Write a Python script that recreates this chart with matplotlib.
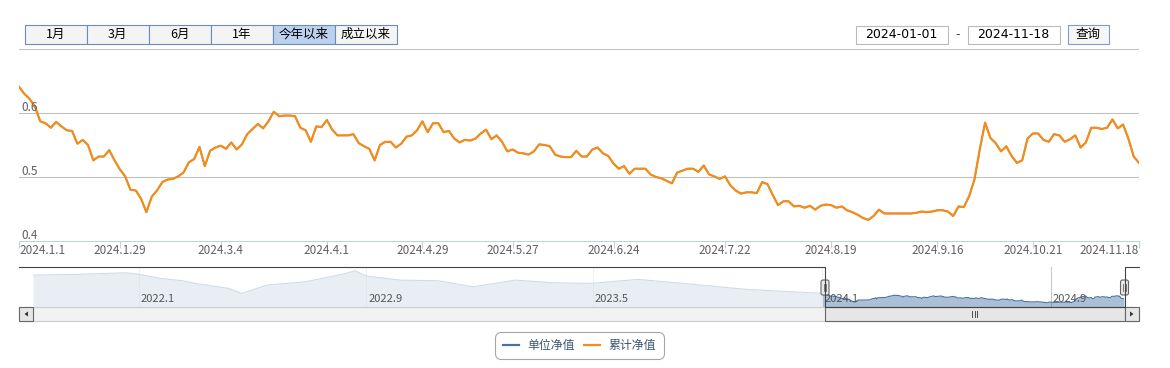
import numpy as np
import pandas as pd
import matplotlib
matplotlib.use('Agg')
import matplotlib.pyplot as plt
import matplotlib.dates as mdates
from matplotlib.patches import Rectangle, FancyBboxPatch, Polygon
from matplotlib.transforms import offset_copy

plt.rcParams['font.family'] = ['Noto Sans CJK SC', 'DejaVu Sans']

# ---- data ----
holidays = ['2024-01-01', '2024-02-09', '2024-02-12', '2024-02-13', '2024-02-14',
            '2024-02-15', '2024-02-16', '2024-04-04', '2024-04-05', '2024-05-01',
            '2024-05-02', '2024-05-03', '2024-06-10', '2024-09-16', '2024-09-17',
            '2024-10-01', '2024-10-02', '2024-10-03', '2024-10-04', '2024-10-07']
extra_days = ['2024-06-30']  # half-year NAV date

cum_nav = [
    0.641, 0.630, 0.622, 0.610, 0.587, 0.584, 0.577, 0.586, 0.579, 0.573,
    0.572, 0.552, 0.558, 0.550, 0.526, 0.532, 0.532, 0.542, 0.526, 0.512,
    0.501, 0.480, 0.479, 0.466, 0.445, 0.469, 0.479, 0.492, 0.496, 0.497,
    0.501, 0.507, 0.523, 0.528, 0.547, 0.517, 0.541, 0.546, 0.549, 0.544,
    0.554, 0.543, 0.551, 0.567, 0.575, 0.583, 0.576, 0.587, 0.602, 0.595,
    0.596, 0.596, 0.595, 0.577, 0.573, 0.555, 0.579, 0.578, 0.589, 0.574,
    0.565, 0.565, 0.565, 0.567, 0.553, 0.548, 0.544, 0.526, 0.550, 0.555,
    0.555, 0.546, 0.552, 0.563, 0.565, 0.573, 0.587, 0.570, 0.584, 0.584,
    0.570, 0.572, 0.560, 0.554, 0.558, 0.557, 0.560, 0.568, 0.574, 0.559,
    0.565, 0.555, 0.540, 0.543, 0.538, 0.537, 0.535, 0.540, 0.551, 0.550,
    0.548, 0.535, 0.532, 0.531, 0.531, 0.541, 0.532, 0.532, 0.543, 0.546,
    0.537, 0.533, 0.521, 0.513, 0.517, 0.505, 0.513, 0.513, 0.513, 0.504,
    0.500, 0.498, 0.494, 0.490, 0.507, 0.510, 0.513, 0.513, 0.508, 0.518,
    0.504, 0.501, 0.497, 0.501, 0.487, 0.479, 0.474, 0.476, 0.476, 0.475,
    0.492, 0.489, 0.472, 0.456, 0.462, 0.462, 0.454, 0.455, 0.452, 0.455,
    0.449, 0.455, 0.457, 0.456, 0.452, 0.454, 0.448, 0.445, 0.441, 0.436,
    0.433, 0.439, 0.449, 0.443, 0.443, 0.443, 0.443, 0.443, 0.443, 0.444,
    0.446, 0.445, 0.446, 0.448, 0.448, 0.446, 0.439, 0.454, 0.453, 0.470,
    0.496, 0.543, 0.585, 0.561, 0.553, 0.540, 0.548, 0.533, 0.522, 0.526,
    0.560, 0.568, 0.568, 0.558, 0.555, 0.567, 0.565, 0.555, 0.559, 0.565,
    0.546, 0.554, 0.577, 0.577, 0.575, 0.577, 0.590, 0.576, 0.582, 0.560,
    0.532, 0.522,
]
unit_nav = list(cum_nav)  # no dividends: unit NAV equals cumulative NAV

tick_dates = ['2024-01-01', '2024-01-29', '2024-03-04', '2024-04-01', '2024-04-29',
              '2024-05-27', '2024-06-24', '2024-07-22', '2024-08-19', '2024-09-16',
              '2024-10-21', '2024-11-18']
tick_labels = ['2024.1.1', '2024.1.29', '2024.3.4', '2024.4.1', '2024.4.29',
               '2024.5.27', '2024.6.24', '2024.7.22', '2024.8.19', '2024.9.16',
               '2024.10.21', '2024.11.18']

# navigator history before the selected range
hist_dates = ['2021-09-10', '2021-10-27', '2021-12-18', '2021-12-31', '2022-01-24',
              '2022-02-17', '2022-03-02', '2022-04-07', '2022-04-21', '2022-05-18',
              '2022-06-28', '2022-08-07', '2022-08-20', '2022-09-01', '2022-10-07',
              '2022-11-17', '2022-12-24', '2023-02-07', '2023-03-19', '2023-04-29',
              '2023-06-18', '2023-08-13', '2023-10-12', '2023-12-29']
hist_nav = [1.046, 1.061, 1.097, 1.068, 0.973, 0.920, 0.862, 0.752, 0.641, 0.825,
            0.898, 1.068, 1.141, 1.024, 0.935, 0.920, 0.787, 0.935, 0.876, 0.862,
            0.951, 0.847, 0.729, 0.645]

nav_tick_dates = ['2022-01-01', '2022-09-01', '2023-05-01', '2024-01-01', '2024-09-01']
nav_tick_labels = ['2022.1', '2022.9', '2023.5', '2024.1', '2024.9']

buttons = ['1月', '3月', '6月', '1年', '今年以来', '成立以来']
selected_button = '今年以来'
date_from, date_to = '2024-01-01', '2024-11-18'
series_names = ['单位净值', '累计净值']
series_colors = ['#4572A7', '#F28C1A']

# ---- layout helpers (pixel boxes, top-left origin) ----
W, H = 1170, 368


def box(x0, y0, x1, y1):
    return [x0 / W, 1 - y1 / H, (x1 - x0) / W, (y1 - y0) / H]


fig = plt.figure(figsize=(W / 100, H / 100), dpi=100)

# ---- main chart ----
days = pd.bdate_range('2024-01-02', '2024-11-18')
days = days.difference(pd.to_datetime(holidays)).union(pd.to_datetime(extra_days))
x = np.arange(len(days))

ax = fig.add_axes(box(19, 49, 1139, 241))
ax.patch.set_alpha(0)
# the blue series sits under the orange one (same values)
l1, = ax.plot(x, unit_nav, color=series_colors[0], lw=1.0, label=series_names[0])
l2, = ax.plot(x, cum_nav, color=series_colors[1], lw=1.6, label=series_names[1],
              solid_joinstyle='round')
ax.set_xlim(0, len(x) - 1)
ax.set_ylim(0.4, 0.7)

ax.set_yticks([0.5, 0.6, 0.7])
ax.grid(axis='y', color='#C0C0C0', lw=0.75)
ax.tick_params(axis='y', length=0, labelleft=False)
ytr = offset_copy(ax.get_yaxis_transform(), fig=fig, x=2, y=-1, units='dots')
for v in [0.4, 0.5, 0.6]:
    ax.text(0, v, f'{v:.1f}', transform=ytr, ha='left', va='bottom',
            fontsize=8.5, color='#606060')

pos = days.searchsorted(pd.to_datetime(tick_dates))
ax.set_xticks(pos, tick_labels)
ax.tick_params(axis='x', length=5, color='#C0D0E0', width=0.75,
               labelcolor='#606060', labelsize=8.5, pad=-2.6)
labels = ax.get_xticklabels()
labels[0].set_ha('left')
labels[-1].set_ha('right')
for s in ['top', 'left', 'right']:
    ax.spines[s].set_visible(False)
ax.spines['bottom'].set_color('#C0D0E0')
ax.spines['bottom'].set_linewidth(0.75)

# ---- navigator ----
nav = fig.add_axes(box(33, 267, 1124, 307))
nav.patch.set_alpha(0)
nx = np.concatenate([mdates.date2num(pd.to_datetime(hist_dates)), mdates.date2num(days)])
ny = np.concatenate([hist_nav, unit_nav])
nav_lo, nav_hi = 0.34, 1.225
nav.set_xlim(nx[0], nx[-1])
nav.set_ylim(nav_lo, nav_hi)
for d in mdates.date2num(pd.to_datetime(nav_tick_dates)):
    nav.axvline(d, color='#C8C8C8', lw=0.75, zorder=0)
nav.fill_between(nx, ny, nav_lo, color='#4572A7', alpha=0.45, lw=0, zorder=1)
nav.plot(nx, ny, color='#4572A7', lw=0.8, zorder=2)
nav.axvspan(nx[0], mdates.date2num(days[0]), color='white', alpha=0.75, lw=0, zorder=3)
ntr = offset_copy(nav.get_xaxis_transform(), fig=fig, x=2, y=0, units='dots')
for d, lab in zip(mdates.date2num(pd.to_datetime(nav_tick_dates)), nav_tick_labels):
    nav.text(d, 0.2, lab, transform=ntr, ha='left', va='center',
             fontsize=8, color='#555555', zorder=4)
nav.axis('off')

# ---- overlay: buttons, inputs, navigator frame, scrollbar ----
ov = fig.add_axes([0, 0, 1, 1], zorder=5)
ov.set_xlim(0, W)
ov.set_ylim(H, 0)
ov.axis('off')

bw = 62.07
for i, lab in enumerate(buttons):
    x0 = 24.5 + bw * i
    fc = '#BCD1EE' if lab == selected_button else '#F4F4F4'
    ov.add_patch(Rectangle((x0, 25), bw, 18.5, fc=fc, ec='#6B8CBA', lw=0.8))
    ov.text(x0 + bw / 2, 34.5, lab, ha='center', va='center', fontsize=9, color='black')

for x0, txt in [(855.5, date_from), (967.5, date_to)]:
    ov.add_patch(Rectangle((x0, 25.5), 92, 18, fc='white', ec='#BBBBBB', lw=0.8))
    ov.text(x0 + 46, 34.5, txt, ha='center', va='center', fontsize=9, color='black',
            family='DejaVu Sans')
ov.text(957.5, 34.5, '-', ha='center', va='center', fontsize=9, color='#444444',
        family='DejaVu Sans')
ov.add_patch(Rectangle((1067.5, 25), 41, 18.5, fc='#F6F6F6', ec='#7C9CD0', lw=0.8))
ov.text(1088, 34.5, '查询', ha='center', va='center', fontsize=9, color='black')

# navigator outline and handles
zl, zr = 825, 1124.5
ov.plot([19, zl, zl, zr, zr, 1139], [267, 267, 307, 307, 267, 267],
        color='#444444', lw=0.8)
for hx in [zl, zr]:
    ov.add_patch(FancyBboxPatch((hx - 4, 280), 8, 15, boxstyle='round,pad=0,rounding_size=2',
                                fc='#EBE7E8', ec='#666666', lw=0.8))
    ov.plot([hx - 1.2, hx - 1.2], [284, 291], color='#666666', lw=0.6)
    ov.plot([hx + 1.2, hx + 1.2], [284, 291], color='#666666', lw=0.6)

# scrollbar
ov.add_patch(Rectangle((19, 307), 1120, 14, fc='#F2F2F2', ec='#CCCCCC', lw=0.8))
ov.add_patch(Rectangle((zl, 307), zr - zl, 14, fc='#E6E6E6', ec='#666666', lw=0.8))
for gx in [-2.5, 0, 2.5]:
    cx = (zl + zr) / 2 + gx
    ov.plot([cx, cx], [311, 317], color='#333333', lw=0.6)
for bx, pts in [(19, [(28, 311.5), (28, 316.5), (24.5, 314)]),
                (1125, [(1130, 311.5), (1130, 316.5), (1133.5, 314)])]:
    ov.add_patch(Rectangle((bx, 307), 14, 14, fc='#E6E6E6', ec='#666666', lw=0.8))
    ov.add_patch(Polygon(pts, closed=True, fc='#333333', ec='none'))

# legend
leg = fig.legend(handles=[l1, l2], loc='center', bbox_to_anchor=(579.5 / W, 1 - 345.5 / H),
                 ncol=2, frameon=True, fancybox=True, fontsize=8.6, handlelength=1.4,
                 handletextpad=0.7, columnspacing=0.7, borderpad=0.62,
                 edgecolor='#909090', labelcolor='#3E576F')
for h in leg.get_lines():
    h.set_linewidth(1.6)
leg.get_frame().set_linewidth(0.8)
leg.get_frame().set_boxstyle('round,pad=0,rounding_size=0.5')

fig.savefig('out.png', dpi=100)
